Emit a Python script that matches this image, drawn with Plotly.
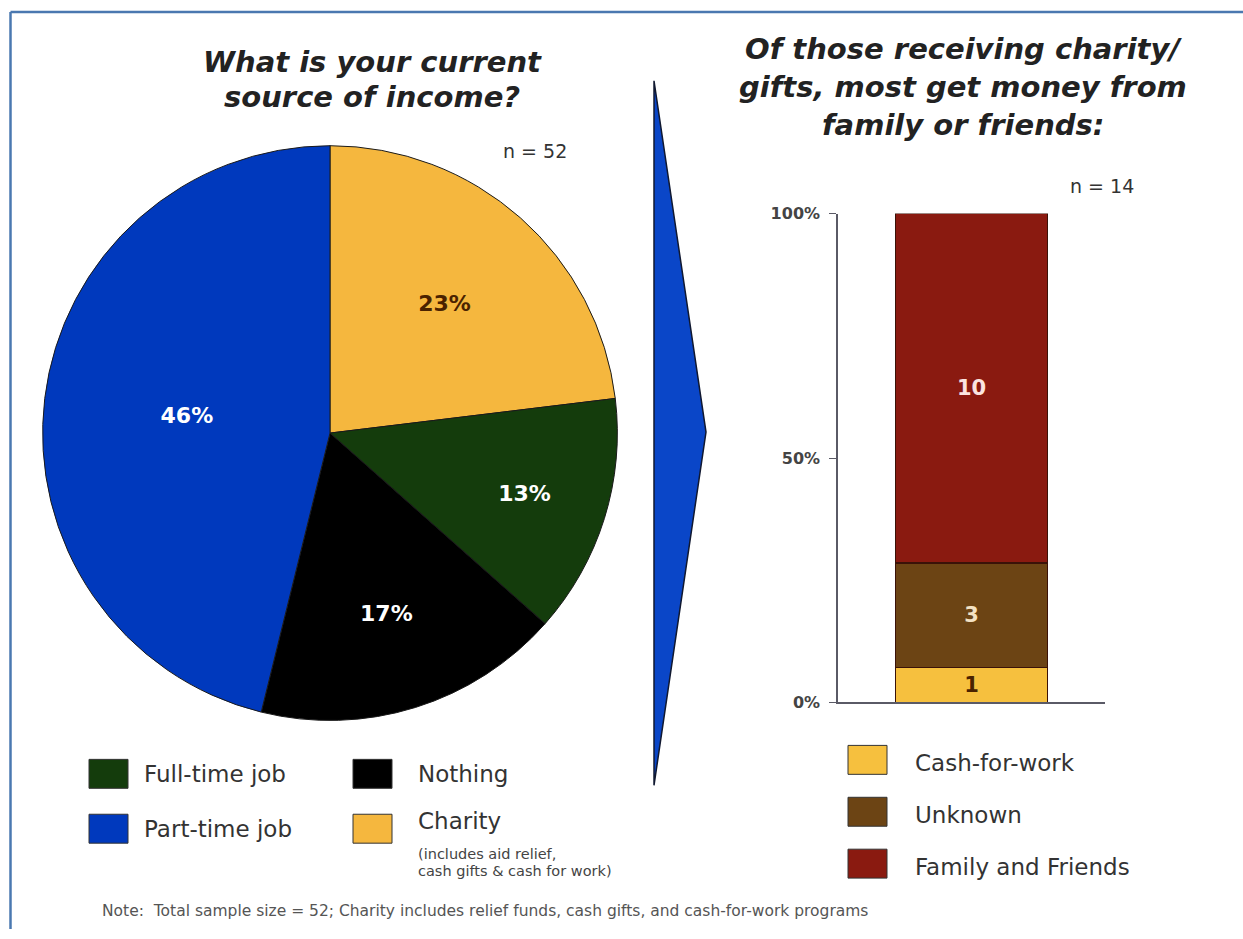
import plotly.graph_objects as go

W, H = 1243, 939

# ---- data ----
pie_labels = ["Charity", "Full-time job", "Nothing", "Part-time job"]
pie_counts = [12, 7, 9, 24]          # n = 52
pie_colors = ["#f5b73e", "#143c0c", "#000000", "#0039bd"]
pie_text_colors = ["#4a2200", "#ffffff", "#ffffff", "#ffffff"]

bar_labels = ["Cash-for-work", "Unknown", "Family and Friends"]
bar_counts = [1, 3, 10]              # n = 14
bar_colors = ["#f6c03e", "#6c4414", "#8a1a10"]
bar_text_colors = ["#4a2200", "#f3e2c4", "#fbe4e0"]

y_tickvals = [0, 50, 100]
y_ticktext = ["0%", "50%", "100%"]

left_title = ["What is your current", "source of income?"]
right_title = ["Of those receiving charity/", "gifts, most get money from", "family or friends:"]
charity_note = ["(includes aid relief,", "cash gifts & cash for work)"]
note = "Note:  Total sample size = 52; Charity includes relief funds, cash gifts, and cash-for-work programs"

FONT = "DejaVu Sans, Liberation Sans, Arial, sans-serif"

# layout helpers: convert screen positions to paper fractions
# (vertical mapping calibrated to the rendered page area)
TOP, HEFF = 8, 922

def px(x):
    return x / W

def py(y):
    return 1 - (y - TOP) / HEFF

fig = go.Figure()

fig.add_trace(go.Pie(
    labels=pie_labels, values=pie_counts, sort=False, direction="clockwise",
    rotation=0, marker=dict(colors=pie_colors, line=dict(color="#1a1a1a", width=1)),
    texttemplate="<b>%{percent:.0%}</b>", textposition="inside",
    insidetextorientation="horizontal",
    textfont=dict(family=FONT, size=22, color=pie_text_colors),
    domain=dict(x=[px(42), px(618)], y=[py(721), py(145)]),
    showlegend=False, hoverinfo="label+percent",
))

for lab, cnt, col, tcol in zip(bar_labels, bar_counts, bar_colors, bar_text_colors):
    fig.add_trace(go.Bar(
        x=[0], y=[cnt], name=lab, width=0.57,
        marker=dict(color=col, line=dict(color="#3a1208", width=1.5)),
        text=[f"<b>{cnt}</b>"], textposition="inside", insidetextanchor="middle",
        textfont=dict(family=FONT, size=21, color=tcol),
        showlegend=False, xaxis="x", yaxis="y",
    ))

fig.update_layout(
    width=W, height=H, autosize=False,
    margin=dict(l=0, r=0, t=0, b=0),
    paper_bgcolor="white", plot_bgcolor="white",
    barmode="stack", barnorm="percent",
    font=dict(family=FONT, color="#333"),
    xaxis=dict(domain=[px(838), px(1105)], range=[-0.5, 0.5], showline=True,
               linecolor="#5a5a66", linewidth=1.5, showticklabels=False,
               ticks="", showgrid=False, zeroline=False, fixedrange=True),
    yaxis=dict(domain=[py(703), py(213)], range=[0, 100], showline=True,
               linecolor="#5a5a66", linewidth=1.5, tickvals=y_tickvals,
               ticktext=[f"<b>{t}</b>" for t in y_ticktext], ticks="outside",
               ticklen=7, tickcolor="#5a5a66", showgrid=False, zeroline=False,
               ticklabelstandoff=6,
               tickfont=dict(family=FONT, size=16, color="#444")),
)

ann = []

def text(x, y, s, size, color="#333", xanchor="center", yanchor="middle", align="center"):
    ann.append(dict(x=px(x), y=py(y), xref="paper", yref="paper", text=s, showarrow=False,
                    xanchor=xanchor, yanchor=yanchor, align=align,
                    font=dict(family=FONT, size=size, color=color)))

for line, yy in zip(left_title, [61, 96]):
    text(372, yy, f"<b><i>{line}</i></b>", 29, "#222")
for line, yy in zip(right_title, [48, 86, 124]):
    text(963, yy, f"<b><i>{line}</i></b>", 29, "#222")
text(535, 150, f"n = {sum(pie_counts)}", 19)
text(1102, 185, f"n = {sum(bar_counts)}", 19)
text(100, 912, note, 15.5, "#555", xanchor="left")

shapes = []
# frame
shapes.append(dict(type="line", xref="paper", yref="paper", x0=px(10.5), x1=1, y0=py(11), y1=py(11),
                   line=dict(color="#4a78b0", width=2.5)))
shapes.append(dict(type="line", xref="paper", yref="paper", x0=px(10.5), x1=px(10.5), y0=py(11), y1=0,
                   line=dict(color="#4a78b0", width=2.5)))
# chevron
shapes.append(dict(type="path", xref="paper", yref="paper",
                   path=f"M {px(654)},{py(80)} L {px(706)},{py(432)} L {px(654)},{py(786)} Z",
                   fillcolor="#0a46c8", line=dict(color="#101830", width=1.5)))

# left legend (2x2 grid)
left_order = ["Full-time job", "Nothing", "Part-time job", "Charity"]
left_pos = [(89, 760), (353, 760), (89, 815), (353, 815)]
for lab, (x0, y0) in zip(left_order, left_pos):
    col = pie_colors[pie_labels.index(lab)]
    shapes.append(dict(type="rect", xref="paper", yref="paper", x0=px(x0), x1=px(x0 + 39),
                       y0=py(y0), y1=py(y0 + 29), fillcolor=col, line=dict(color="#333", width=1)))
    yy = y0 + 15 if lab != "Charity" else y0 + 7
    text(x0 + 53 if x0 < 300 else x0 + 63, yy, lab, 23, xanchor="left")
for line, yy in zip(charity_note, [855, 872]):
    text(416, yy, line, 14.5, "#444", xanchor="left")

# right legend
right_pos = [746, 798, 850]
for lab, col, y0 in zip(bar_labels, bar_colors, right_pos):
    shapes.append(dict(type="rect", xref="paper", yref="paper", x0=px(848), x1=px(887),
                       y0=py(y0), y1=py(y0 + 29), fillcolor=col, line=dict(color="#333", width=1)))
    text(913, y0 + 18, lab, 23, xanchor="left")

fig.update_layout(annotations=ann, shapes=shapes)

post = (
    "document.documentElement.style.margin='0px';"
    "document.documentElement.style.overflow='hidden';"
    "document.body.style.margin='0px';"
    "document.body.style.overflow='hidden';"
)
fig.write_html("out.html", config={"displayModeBar": False}, post_script=post)
